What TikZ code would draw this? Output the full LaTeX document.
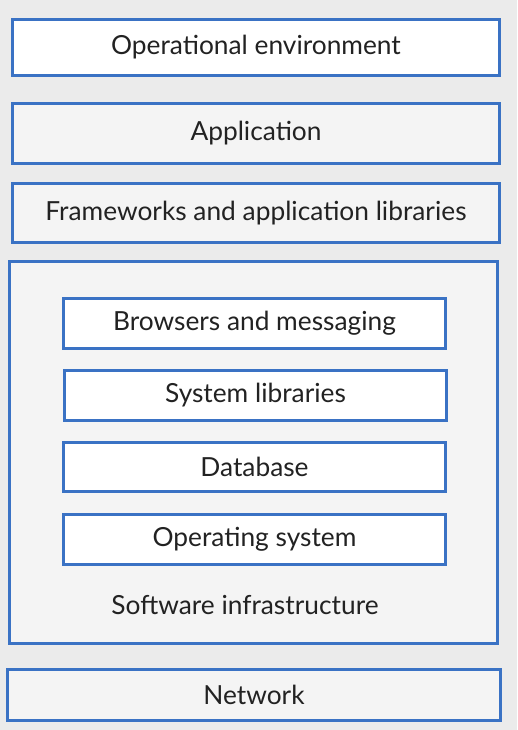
\documentclass[tikz,border=0pt]{standalone}
\usepackage{fontspec}
\setmainfont{Lato}
\definecolor{layerblue}{HTML}{3A72C4}
\definecolor{pagegray}{HTML}{EBEBEB}
\definecolor{palegray}{HTML}{F4F4F4}
\definecolor{inkgray}{HTML}{222222}

\begin{document}
\begin{tikzpicture}[x=1pt,y=-1pt]
\tikzset{
  layertext/.style={text=inkgray, font=\fontsize{26.3}{30}\selectfont},
  layer/.style={layertext, draw=layerblue, line width=3pt, fill=palegray, inner sep=0pt},
  outer/.style={layer, minimum width=487pt},
  inner/.style={layer, fill=white, minimum width=382pt, minimum height=50pt}
}
\fill[pagegray] (0,0) rectangle (517,730);

%obere Schichten
\node[outer, fill=white, minimum height=56pt] (operenv) at (256,47.5) {Operational environment};
\node[outer, minimum height=60pt] (app) at (256,133.5) {Application};
\node[outer, minimum height=59pt] (frameworks) at (256,213) {Frameworks and application libraries};

%Software-Infrastruktur mit inneren Schichten
\node[layer, minimum width=488pt, minimum height=382pt] (infra) at (253.5,452.5) {};
\node[inner] (browsers) at (254.5,323.5) {Browsers and messaging};
\node[inner] (syslibs) at (255.5,395.5) {System libraries};
\node[inner, minimum height=49pt] (database) at (254.5,467) {Database};
\node[inner] (opsys) at (254.5,539.5) {Operating system};
\node[layertext] (infralabel) at (245,605) {Software infrastructure};

%Netzwerk
\node[layer, minimum width=493pt, minimum height=51pt] (network) at (254,695) {Network};
\end{tikzpicture}
\end{document}
